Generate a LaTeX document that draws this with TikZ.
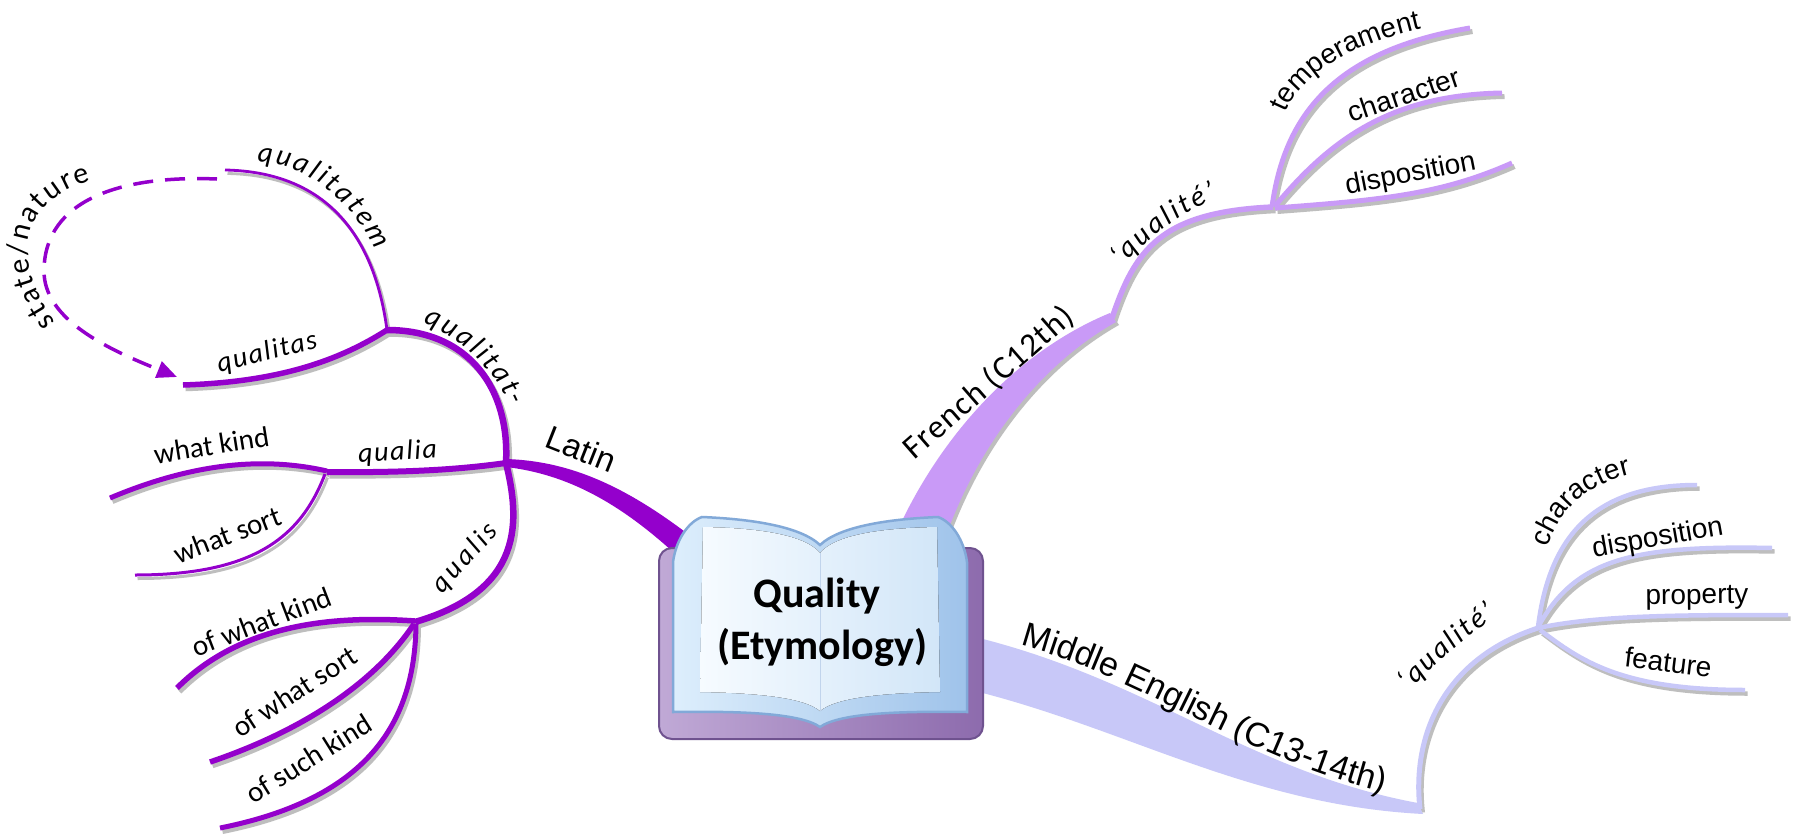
\documentclass[tikz,border=0pt]{standalone}
\usepackage{fontspec}
\setmainfont{Carlito}
\newfontfamily\calfont{Carlito}
\newfontfamily\itAfont[LetterSpace=6]{Carlito}
\newfontfamily\itBfont[LetterSpace=12]{Carlito}
\newfontfamily\frenchfont[LetterSpace=4]{Carlito}
\newfontfamily\arifont{Liberation Sans}
\usetikzlibrary{decorations.text,arrows.meta}
\definecolor{latin}{HTML}{9400CC}
\definecolor{french}{HTML}{C99AF7}
\definecolor{meng}{HTML}{C8C8F8}
\definecolor{shadowgrey}{HTML}{BEBEBE}
\definecolor{covera}{HTML}{C0A9D6}
\definecolor{coverb}{HTML}{8D6BAD}
\definecolor{coverline}{HTML}{6F528F}
\definecolor{pagea}{HTML}{DDEEFC}
\definecolor{pageb}{HTML}{9FC3EA}
\definecolor{pageline}{HTML}{82A9D8}
\definecolor{innera}{HTML}{F6FBFF}
\definecolor{innerb}{HTML}{D2E6F8}
\newcommand\lab{\calfont\fontsize{29}{34}\selectfont}
\newcommand\labsp{\calfont\fontsize{30}{36}\selectfont}
\newcommand\labit{\calfont\itshape\fontsize{29}{34}\selectfont}
\newcommand\labitA{\itAfont\itshape\fontsize{28}{34}\selectfont}
\newcommand\labitB{\itBfont\itshape\fontsize{28}{34}\selectfont}
\newcommand\rlab{\arifont\fontsize{28}{34}\selectfont}
\newcommand\latfont{\arifont\fontsize{33}{40}\selectfont}
\newcommand\frfont{\frenchfont\fontsize{33}{40}\selectfont}
\newcommand\mefont{\arifont\fontsize{34}{40}\selectfont}
\newcommand\bookfont{\calfont\bfseries\fontsize{42}{50}\selectfont}
\tikzset{
  shadowline/.style={draw=shadowgrey, shift={(2.5,3.5)}},
  lbl/.style={inner sep=0pt, anchor=base},
}
% Latin branch paths
\def\pQtem{(225,170) .. controls (330,172) and (375,240) .. (387,330)}
\def\pQtas{(183,385) .. controls (280,382) and (340,360) .. (387,330)}
\def\pQtat{(387,330) .. controls (470,330) and (510,390) .. (506,463)}
\def\pQlia{(506,463) .. controls (470,468) and (420,473) .. (327,472)}
\def\pWK{(327,471) .. controls (270,458) and (200,460) .. (110,498)}
\def\pWS{(325,474) .. controls (300,540) and (250,575) .. (135,575)}
\def\pQlis{(506,463) .. controls (520,520) and (525,590) .. (415,622)}
\def\pOWK{(415,621) .. controls (330,615) and (240,625) .. (177,688)}
\def\pOWS{(414,624) .. controls (370,690) and (290,735) .. (210,762)}
\def\pOSK{(416,624) .. controls (415,730) and (360,800) .. (220,828)}
% French
\def\pFq{(1112,318) .. controls (1135,250) and (1160,212) .. (1273,207)}
\def\pFt{(1272,207) .. controls (1285,110) and (1340,50) .. (1470,28)}
\def\pFc{(1275,206) .. controls (1330,140) and (1390,95) .. (1502,93)}
\def\pFd{(1275,208) .. controls (1380,200) and (1440,195) .. (1512,163)}
% Middle English
\def\pMq{(1420,809) .. controls (1412,740) and (1440,660) .. (1538,628)}
\def\pMc{(1538,627) .. controls (1550,530) and (1600,485) .. (1697,485)}
\def\pMd{(1538,627) .. controls (1575,560) and (1630,545) .. (1772,548)}
\def\pMp{(1538,628) .. controls (1600,615) and (1680,615) .. (1788,615)}
\def\pMf{(1540,630) .. controls (1580,660) and (1620,690) .. (1745,690)}
\begin{document}
\begin{tikzpicture}[x=1pt,y=-1pt]
\fill[white] (0,0) rectangle (1795,835);
\useasboundingbox (0,0) rectangle (1795,835);

% ---------- shadows ----------
\draw[shadowline, line width=2.8] \pQtem;
\draw[shadowline, line width=5.5] \pQtas;
\draw[shadowline, line width=6.5] \pQtat;
\draw[shadowline, line width=6] \pQlia;
\draw[shadowline, line width=5] \pWK;
\draw[shadowline, line width=3] \pWS;
\draw[shadowline, line width=6.5] \pQlis;
\draw[shadowline, line width=5.5] \pOWK;
\draw[shadowline, line width=5.5] \pOWS;
\draw[shadowline, line width=5] \pOSK;
\draw[shadowline, line width=5.5] \pFq;
\draw[shadowline, line width=5] \pFt;
\draw[shadowline, line width=5] \pFc;
\draw[shadowline, line width=5] \pFd;
\draw[shadowline, line width=5] \pMq;
\draw[shadowline, line width=4.5] \pMc;
\draw[shadowline, line width=4.5] \pMd;
\draw[shadowline, line width=4.5] \pMp;
\draw[shadowline, line width=4.5] \pMf;
\fill[shadowgrey, shift={(3,3)}] (885,570) -- (900,525) .. controls (945,430) and (1020,350) .. (1110,313) -- (1116,322) .. controls (1045,362) and (985,435) .. (950,525) -- (935,570) -- cycle;

% ---------- Latin ----------
\draw[latin, line width=2.8] \pQtem;
\draw[latin, line width=5.5] \pQtas;
\draw[latin, line width=6.5] \pQtat;
\draw[latin, line width=6] \pQlia;
\draw[latin, line width=5] \pWK;
\draw[latin, line width=3] \pWS;
\draw[latin, line width=6.5] \pQlis;
\draw[latin, line width=5.5] \pOWK;
\draw[latin, line width=5.5] \pOWS;
\draw[latin, line width=5] \pOSK;
\fill[latin] (506,459) .. controls (570,461) and (628,486) .. (702,545) -- (688,566) .. controls (622,502) and (566,474) .. (506,467) -- cycle;
\draw[latin, line width=3.5, dash pattern=on 20pt off 12pt, -{Triangle[length=20pt,width=17pt]}]
  (217,179) .. controls (120,175) and (45,200) .. (44,270) .. controls (43,320) and (110,350) .. (177,377);

% ---------- French ----------
\fill[french] (885,570) -- (900,525) .. controls (945,430) and (1020,350) .. (1110,313) -- (1116,322) .. controls (1045,362) and (985,435) .. (950,525) -- (935,570) -- cycle;
\draw[french, line width=5.5] \pFq;
\draw[french, line width=5] \pFt;
\draw[french, line width=5] \pFc;
\draw[french, line width=5] \pFd;

% ---------- Middle English ----------
\fill[meng] (975,637) .. controls (1150,680) and (1250,772) .. (1418,803) -- (1423,814) .. controls (1250,805) and (1130,730) .. (975,691) -- cycle;
\draw[meng, line width=5] \pMq;
\draw[meng, line width=4.5] \pMc;
\draw[meng, line width=4.5] \pMd;
\draw[meng, line width=4.5] \pMp;
\draw[meng, line width=4.5] \pMf;

% ---------- book ----------
\draw[coverline, line width=2, left color=covera, right color=coverb, rounded corners=13] (659,548) rectangle (983,739);
\draw[pageline, line width=2.5, left color=pagea, right color=pageb]
  (673,562) .. controls (676,540) and (688,522) .. (702,517)
  .. controls (750,519) and (800,526) .. (820,545)
  .. controls (840,526) and (890,519) .. (938,517)
  .. controls (952,522) and (964,540) .. (967,562)
  -- (967,712) .. controls (900,711) and (840,713) .. (820,727)
  .. controls (800,713) and (740,711) .. (673,712) -- cycle;
\fill[left color=innera, right color=innerb]
  (703,527) .. controls (760,528) and (805,535) .. (820,553)
  .. controls (835,535) and (880,528) .. (937,527)
  -- (940,692) .. controls (880,693) and (835,698) .. (820,711)
  .. controls (805,698) and (760,693) .. (700,692) -- cycle;
\draw[pageline!50, line width=1] (820,553) -- (820,711);
\node[lbl, font=\bookfont] (tQuality) at (817,607) {Quality};
\node[lbl, font=\bookfont] (tEtym) at (822,659) {(Etymology)};

% ---------- labels ----------
\path[decorate, decoration={text along path, text={|\labsp|state/nature}, text align={fit to path}}]
  (56,322) .. controls (38,300) and (26,270) .. (28,244) .. controls (30,214) and (55,190) .. (91,181);
\path[decorate, decoration={text along path, text={|\labit|qualitatem}, text align={fit to path}}]
  (257,162) .. controls (315,165) and (355,208) .. (375,250);
\path[decorate, decoration={text along path, text={|\labit|qualitat-}, text align={fit to path}}]
  (423,323) .. controls (450,333) and (490,360) .. (510,406);
\node[lbl, rotate=14, font=\labitA] (nQualitas) at (269,360) {qualitas};
\node[lbl, rotate=3, font=\labitA] (nQualia) at (398,460) {qualia};
\node[lbl, rotate=48, font=\labitB] (nQualis) at (471,563) {qualis};
\node[lbl, rotate=9, font=\lab] (nWK) at (213,455) {what kind};
\node[lbl, rotate=21, font=\lab] (nWS) at (231,544) {what sort};
\node[lbl, rotate=21, font=\lab] (nOWK) at (265,631) {of what kind};
\node[lbl, rotate=33, font=\lab] (nOWS) at (300,700) {of what sort};
\node[lbl, rotate=32, font=\lab] (nOSK) at (314,767) {of such kind};
\node[lbl, rotate=-21.6, font=\latfont] (nLatin) at (577,460) {Latin};

\node[lbl, rotate=41, font=\frfont] (nFrench) at (995,390) {French (C12th)};
\path[decorate, decoration={text along path, text={|\labit|‘qualité’}, text align={fit to path}}]
  (1122,267) .. controls (1142,245) and (1172,217) .. (1217,199);
\path[decorate, decoration={text along path, text={|\rlab|temperament}, text align=left}]
  (1286,113) .. controls (1300,78) and (1345,42) .. (1445,24);
\node[lbl, rotate=18.6, font=\rlab] (nFchar) at (1407,104) {character};
\node[lbl, rotate=11, font=\rlab] (nFdisp) at (1412,182) {disposition};

\path[decorate, decoration={text along path, text={|\mefont|Middle English (C13-14th)}, text align=left}]
  (1020,645) .. controls (1150,680) and (1250,765) .. (1410,798);
\path[decorate, decoration={text along path, text={|\labit|‘qualité’}, text align={fit to path}}]
  (1408,691) .. controls (1427,673) and (1457,644) .. (1496,616);
\path[decorate, decoration={text along path, text={|\rlab|character}, text align=left}]
  (1548,548) .. controls (1565,495) and (1605,472) .. (1680,468);
\node[lbl, rotate=10, font=\rlab] (nMdisp) at (1659,546) {disposition};
\node[lbl, rotate=0.5, font=\rlab] (nMprop) at (1697,604) {property};
\node[lbl, rotate=-7, font=\rlab] (nMfeat) at (1667,672) {feature};
\end{tikzpicture}
\end{document}
